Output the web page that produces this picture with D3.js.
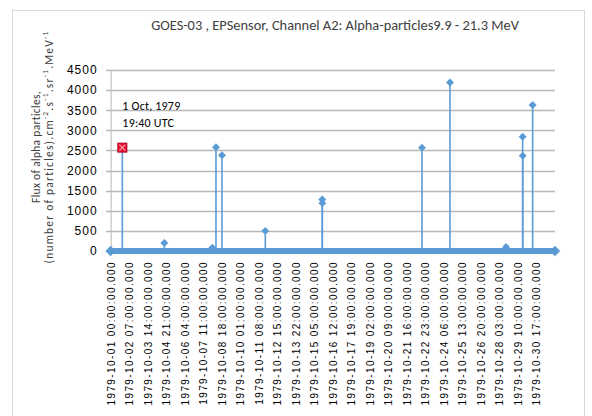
<!DOCTYPE html>
<html>
<head>
  <meta charset="utf-8">
  <script type="text/javascript" src="https://cdn.jsdelivr.net/npm/d3@7"></script>
  <title>GOES-03 EPS A2</title>
  <style>
    body { margin: 0; background: #fff; }
    svg { display: block; font-family: Carlito, Calibri, "Liberation Sans", Arial, sans-serif; }
  </style>
</head>
<body>

<svg width="592" height="416"></svg>

<script>
  // alpha particle flux spikes, Oct 1979
  var spikeTimes = [
    "1979-10-01 19:40", "1979-10-04 18:00", "1979-10-08 02:20", "1979-10-08 08:25",
    "1979-10-08 18:30", "1979-10-11 19:00", "1979-10-15 18:20", "1979-10-15 18:30",
    "1979-10-22 17:20", "1979-10-24 16:10", "1979-10-28 14:00", "1979-10-29 17:50",
    "1979-10-29 18:00", "1979-10-30 10:35"
  ];
  var spikeValues = [2570, 200, 80, 2580, 2380, 500, 1280, 1190, 2570, 4190, 100, 2840, 2370, 3630];

  var timeDomain = ["1979-10-01 00:00", "1979-11-01 00:00"];
  var yTicks = [0, 500, 1000, 1500, 2000, 2500, 3000, 3500, 4000, 4500];
  var tickLabels = [
    "1979-10-01 00:00:00.000", "1979-10-02 07:00:00.000", "1979-10-03 14:00:00.000",
    "1979-10-04 21:00:00.000", "1979-10-06 04:00:00.000", "1979-10-07 11:00:00.000",
    "1979-10-08 18:00:00.000", "1979-10-10 01:00:00.000", "1979-10-11 08:00:00.000",
    "1979-10-12 15:00:00.000", "1979-10-13 22:00:00.000", "1979-10-15 05:00:00.000",
    "1979-10-16 12:00:00.000", "1979-10-17 19:00:00.000", "1979-10-19 02:00:00.000",
    "1979-10-20 09:00:00.000", "1979-10-21 16:00:00.000", "1979-10-22 23:00:00.000",
    "1979-10-24 06:00:00.000", "1979-10-25 13:00:00.000", "1979-10-26 20:00:00.000",
    "1979-10-28 03:00:00.000", "1979-10-29 10:00:00.000", "1979-10-30 17:00:00.000"
  ];
  var noteLines = ["1 Oct, 1979", "19:40 UTC"];

  var blue = "#5b9bd5";
  var parseMin = d3.utcParse("%Y-%m-%d %H:%M");
  var parseTick = d3.utcParse("%Y-%m-%d %H:%M:%S.%L");

  var x = d3.scaleUtc()
      .domain(timeDomain.map(parseMin))
      .range([110.6, 555]);
  var y = d3.scaleLinear()
      .domain([0, 4500])
      .range([251, 70]);

  var svg = d3.select("svg");

  // chart frame
  svg.append("rect")
      .attr("x", 12.5).attr("y", 10.5)
      .attr("width", 572).attr("height", 430)
      .attr("fill", "none")
      .attr("stroke", "#d9d9d9");

  svg.append("text")
      .attr("x", 335).attr("y", 30)
      .attr("text-anchor", "middle")
      .attr("font-size", 14.4)
      .attr("fill", "#404040")
      .text("GOES-03 , EPSensor, Channel A2: Alpha-particles9.9 - 21.3 MeV");

  // gridlines
  svg.append("g").selectAll("line")
      .data(yTicks.slice(1))
      .join("line")
      .attr("x1", 106).attr("x2", 555)
      .attr("y1", function(d) { return Math.round(y(d)) + 0.5; })
      .attr("y2", function(d) { return Math.round(y(d)) + 0.5; })
      .attr("stroke", "#b8b8b8")
      .attr("stroke-width", 1.3);

  var yAxis = svg.append("g")
      .attr("transform", "translate(110.6,0)")
      .call(d3.axisLeft(y).tickValues(yTicks).tickFormat(d3.format("d")).tickSize(0).tickPadding(13));
  yAxis.select(".domain").attr("stroke", "#b8b8b8");
  yAxis.selectAll("text")
      .attr("font-family", null)
      .attr("font-size", 12)
      .attr("letter-spacing", 1)
      .attr("fill", "#000");

  var xAxis = svg.append("g")
      .attr("transform", "translate(0,251)")
      .call(d3.axisBottom(x)
        .tickValues(tickLabels.map(function(s) { return parseTick(s); }))
        .tickFormat(function(d, i) { return tickLabels[i]; })
        .tickSize(0));
  xAxis.select(".domain").remove();
  xAxis.selectAll("text")
      .attr("font-family", null)
      .attr("font-size", 10)
      .attr("letter-spacing", 1.4)
      .attr("fill", "#000")
      .attr("text-anchor", "end")
      .attr("transform", "rotate(-90)")
      .attr("x", -10)
      .attr("y", 0)
      .attr("dy", "0.35em");

  // y title, two lines with superscript units
  var yTitle = svg.append("text")
      .attr("transform", "translate(40,147) rotate(-90)")
      .attr("text-anchor", "middle")
      .attr("fill", "#404040");
  yTitle.append("tspan")
      .attr("x", 0).attr("y", 0)
      .attr("font-size", 11.5)
      .attr("letter-spacing", 0.3)
      .text("Flux of alpha particles,");
  var line2 = yTitle.append("tspan")
      .attr("x", 0).attr("y", 12.5)
      .attr("font-size", 11.5)
      .attr("letter-spacing", 1.2);
  var parts = [["(number of particles).cm", 0], ["-2", 1], [".s", 0], ["-1", 1],
               [".sr", 0], ["-1", 1], [".MeV", 0], ["-1", 1]];
  parts.forEach(function(p, i) {
    var ts = line2.append("tspan").text(p[0]);
    if (p[1]) ts.attr("font-size", 7.5).attr("dy", -4.5);
    else if (i > 0) ts.attr("dy", 4.5);
  });

  // zero series: thick baseline with end markers
  svg.append("line")
      .attr("x1", x.range()[0]).attr("x2", x.range()[1])
      .attr("y1", y(0)).attr("y2", y(0))
      .attr("stroke", blue)
      .attr("stroke-width", 6);
  svg.append("g").selectAll("path")
      .data(timeDomain)
      .join("path")
      .attr("d", d3.symbol().type(d3.symbolDiamond2).size(70))
      .attr("transform", function(d) { return "translate(" + x(parseMin(d)) + "," + y(0) + ")"; })
      .attr("fill", blue);

  // spikes
  var spikes = spikeTimes.map(function(t, i) { return { t: parseMin(t), v: spikeValues[i] }; });
  svg.append("g").selectAll("line")
      .data(spikes)
      .join("line")
      .attr("x1", function(d) { return x(d.t); })
      .attr("x2", function(d) { return x(d.t); })
      .attr("y1", y(0))
      .attr("y2", function(d) { return y(d.v); })
      .attr("stroke", blue)
      .attr("stroke-width", 1.6);
  svg.append("g").selectAll("path")
      .data(spikes.slice(1))
      .join("path")
      .attr("d", d3.symbol().type(d3.symbolDiamond2).size(40))
      .attr("transform", function(d) { return "translate(" + x(d.t) + "," + y(d.v) + ")"; })
      .attr("fill", blue);

  // highlighted first event
  var hp = spikes[0];
  var hx = x(hp.t), hy = y(hp.v);
  svg.append("rect")
      .attr("x", hx - 4.5).attr("y", hy - 4.5)
      .attr("width", 9).attr("height", 9)
      .attr("fill", "#e8112d")
      .attr("stroke", "#b00020");
  svg.append("path")
      .attr("d", ["M", hx - 3, hy - 3, "L", hx + 3, hy + 3, "M", hx + 3, hy - 3, "L", hx - 3, hy + 3].join(" "))
      .attr("stroke", "#ff9fb0")
      .attr("stroke-width", 1.2);

  svg.append("g").selectAll("text")
      .data(noteLines)
      .join("text")
      .attr("x", hx)
      .attr("y", function(d, i) { return 110 + i * 17; })
      .attr("font-size", 12)
      .attr("letter-spacing", 0.2)
      .attr("fill", "#000")
      .text(function(d) { return d; });
</script>

</body>
</html>
